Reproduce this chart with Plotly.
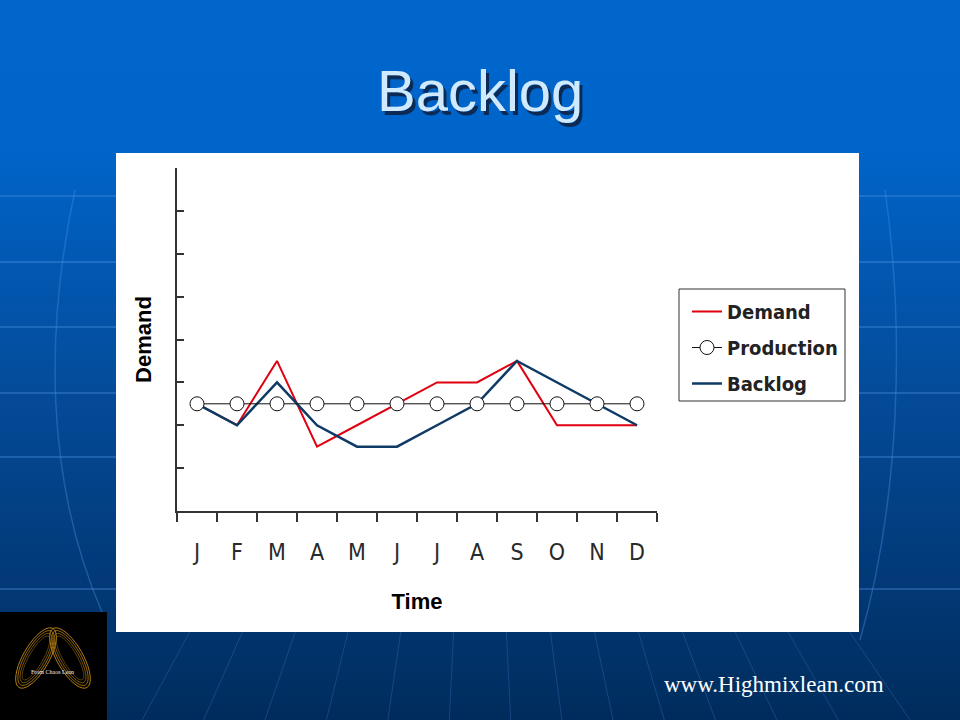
import math
import plotly.graph_objects as go

# ---- data ----
months = ["J", "F", "M", "A", "M", "J", "J", "A", "S", "O", "N", "D"]
demand = [2.5, 2, 3.5, 1.5, 2, 2.5, 3, 3, 3.5, 2, 2, 2]
production = [2.5] * 12
backlog = [2.5, 2, 3, 2, 1.5, 1.5, 2, 2.5, 3.5, 3, 2.5, 2]
y_ticks = [1, 2, 3, 4, 5, 6, 7, 8]

W, H = 960, 720
PL, PR, PT, PB = 177, 657, 168, 511  # plot area in pixels
NARROW = "DejaVu Sans Condensed, Liberation Sans, sans-serif"


def px(x):
    return (x - PL) / (PR - PL)


def py(y):
    return (PB - y) / (PB - PT)


x = list(range(len(months)))

fig = go.Figure()
fig.add_trace(go.Scatter(x=x, y=demand, mode="lines", name="<b>Demand</b>",
                         line=dict(color="#E00010", width=2), legendrank=1,
                         legendgroup="a"))
fig.add_trace(go.Scatter(x=x, y=backlog, mode="lines", name="<b>Backlog</b>",
                         line=dict(color="#0E3A66", width=2.5), legendrank=3,
                         legendgroup="c"))
fig.add_trace(go.Scatter(x=x, y=production, mode="lines+markers", name="<b>Production</b>",
                         line=dict(color="#111111", width=1),
                         marker=dict(symbol="circle", size=14, color="white",
                                     line=dict(color="#111111", width=1)),
                         legendrank=2, legendgroup="b"))

shapes = []


def lerp(c1, c2, t):
    return tuple(round(a + (b - a) * t) for a, b in zip(c1, c2))


# background gradient bands
stops = [(0, (0, 102, 204)), (140, (0, 101, 202)), (400, (4, 74, 152)), (720, (0, 44, 92))]
step = 8
for y0 in range(0, H, step):
    yc = y0 + step / 2
    for i in range(len(stops) - 1):
        if stops[i][0] <= yc <= stops[i + 1][0]:
            t = (yc - stops[i][0]) / (stops[i + 1][0] - stops[i][0])
            c = lerp(stops[i][1], stops[i + 1][1], t)
            break
    shapes.append(dict(type="rect", xref="paper", yref="paper", layer="below",
                       x0=px(0), x1=px(W), y0=py(y0 + step + 0.5), y1=py(y0),
                       fillcolor="rgb(%d,%d,%d)" % c, line=dict(width=0)))

# faint horizontal background lines
for yy in [196, 262, 327, 393, 457, 589]:
    shapes.append(dict(type="line", xref="paper", yref="paper", layer="below",
                       x0=px(0), x1=px(W), y0=py(yy), y1=py(yy),
                       line=dict(color="rgba(80,150,230,0.35)", width=2)))


def curve(points):
    p = "M %f,%f" % (px(points[0][0]), py(points[0][1]))
    for a, b, c in zip(points[1::3], points[2::3], points[3::3]):
        p += " C %f,%f %f,%f %f,%f" % (px(a[0]), py(a[1]), px(b[0]), py(b[1]), px(c[0]), py(c[1]))
    return p


for pts in [[(75, 190), (45, 330), (45, 480), (102, 612)],
            [(885, 190), (905, 330), (900, 500), (860, 640)]]:
    shapes.append(dict(type="path", xref="paper", yref="paper", layer="below",
                       path=curve(pts), line=dict(color="rgba(70,140,220,0.4)", width=1.5)))
for xb in [150, 210, 270, 330, 390, 450, 510, 560, 610, 660, 710, 770, 830, 900]:
    off = (xb - 480) * 0.12
    shapes.append(dict(type="line", xref="paper", yref="paper", layer="below",
                       x0=px(xb - off), x1=px(xb + off * 0.2), y0=py(632), y1=py(720),
                       line=dict(color="rgba(70,130,210,0.3)", width=1)))

# white chart box
shapes.append(dict(type="rect", xref="paper", yref="paper", layer="below",
                   x0=px(116), x1=px(859), y0=py(632), y1=py(153),
                   fillcolor="white", line=dict(width=0)))
# legend frame
shapes.append(dict(type="rect", xref="paper", yref="paper", layer="below",
                   x0=px(679), x1=px(845), y0=py(401), y1=py(289),
                   fillcolor="white", line=dict(color="#333333", width=1)))

# logo
shapes.append(dict(type="rect", xref="paper", yref="paper", layer="above",
                   x0=px(0), x1=px(107), y0=py(720), y1=py(612),
                   fillcolor="black", line=dict(width=0)))


def ellipse(cx, cy, a, b, ang):
    pts = []
    for k in range(0, 41):
        t = 2 * math.pi * k / 40
        ex, ey = a * math.cos(t), b * math.sin(t)
        rx = ex * math.cos(ang) - ey * math.sin(ang)
        ry = ex * math.sin(ang) + ey * math.cos(ang)
        pts.append((px(cx + rx), py(cy + ry)))
    return "M " + " L ".join("%f,%f" % p for p in pts) + " Z"


for side, ang in [(-1, -1.05), (1, 1.05)]:
    for k, (a, b) in enumerate([(34, 13), (31, 11), (28, 9), (25, 7)]):
        shapes.append(dict(type="path", xref="paper", yref="paper", layer="above",
                           path=ellipse(53 + side * 17, 658, a, b, ang),
                           line=dict(color="rgba(200,140,20,%.2f)" % (0.9 - 0.15 * k), width=1)))

annotations = [
    dict(text="Backlog", xref="paper", yref="paper", x=px(483), y=py(94),
         xanchor="center", yanchor="middle", showarrow=False,
         font=dict(family="Liberation Sans", size=58, color="#0B2A55")),
    dict(text="Backlog", xref="paper", yref="paper", x=px(480), y=py(91),
         xanchor="center", yanchor="middle", showarrow=False,
         font=dict(family="Liberation Sans", size=58, color="#CFEAFF")),
    dict(text="www.Highmixlean.com", xref="paper", yref="paper", x=px(774), y=py(684),
         xanchor="center", yanchor="middle", showarrow=False,
         font=dict(family="Liberation Serif", size=23, color="white")),
    dict(text="From Chaos Lean", xref="paper", yref="paper", x=px(53), y=py(672),
         xanchor="center", yanchor="middle", showarrow=False,
         font=dict(family="Liberation Serif", size=6, color="#EEEEEE")),
]

fig.update_layout(
    width=W, height=H,
    margin=dict(l=PL, r=W - PR, t=PT, b=H - PB, autoexpand=False),
    paper_bgcolor="#0066CC", plot_bgcolor="white",
    showlegend=True,
    legend=dict(x=px(687), y=py(292), xanchor="left", yanchor="top",
                bgcolor="rgba(0,0,0,0)", borderwidth=0,
                font=dict(family=NARROW, size=20, color="#222222"),
                tracegroupgap=7, traceorder="grouped"),
    shapes=shapes, annotations=annotations,
    xaxis=dict(range=[-0.5, len(months) - 0.5], tickmode="array", tickvals=x,
               ticktext=months, ticks="outside", ticklen=20,
               tickcolor="rgba(0,0,0,0)", showgrid=False, zeroline=False,
               showline=True, linecolor="#333333", linewidth=1.5,
               tickfont=dict(family=NARROW, size=23, color="#2A2A2A"),
               minor=dict(tickvals=[i - 0.5 for i in range(len(months) + 1)],
                          ticks="outside", ticklen=9, tickcolor="#333333",
                          tickwidth=1.5, showgrid=False),
               title=dict(text="<b>Time</b>", standoff=29,
                          font=dict(family="Liberation Sans", size=22, color="black")),
               fixedrange=True),
    yaxis=dict(range=[0, 8], tickmode="array", tickvals=y_ticks, ticks="inside",
               ticklen=7, tickcolor="#333333", tickwidth=1.5, showticklabels=False,
               showgrid=False, zeroline=False, showline=True, linecolor="#333333",
               linewidth=1.5,
               title=dict(text="<b>Demand</b>", standoff=18,
                          font=dict(family="Liberation Sans", size=22, color="black")),
               fixedrange=True),
)

fig.write_html("out.html", config={"displayModeBar": False},
               post_script="document.body.style.margin='0';")
